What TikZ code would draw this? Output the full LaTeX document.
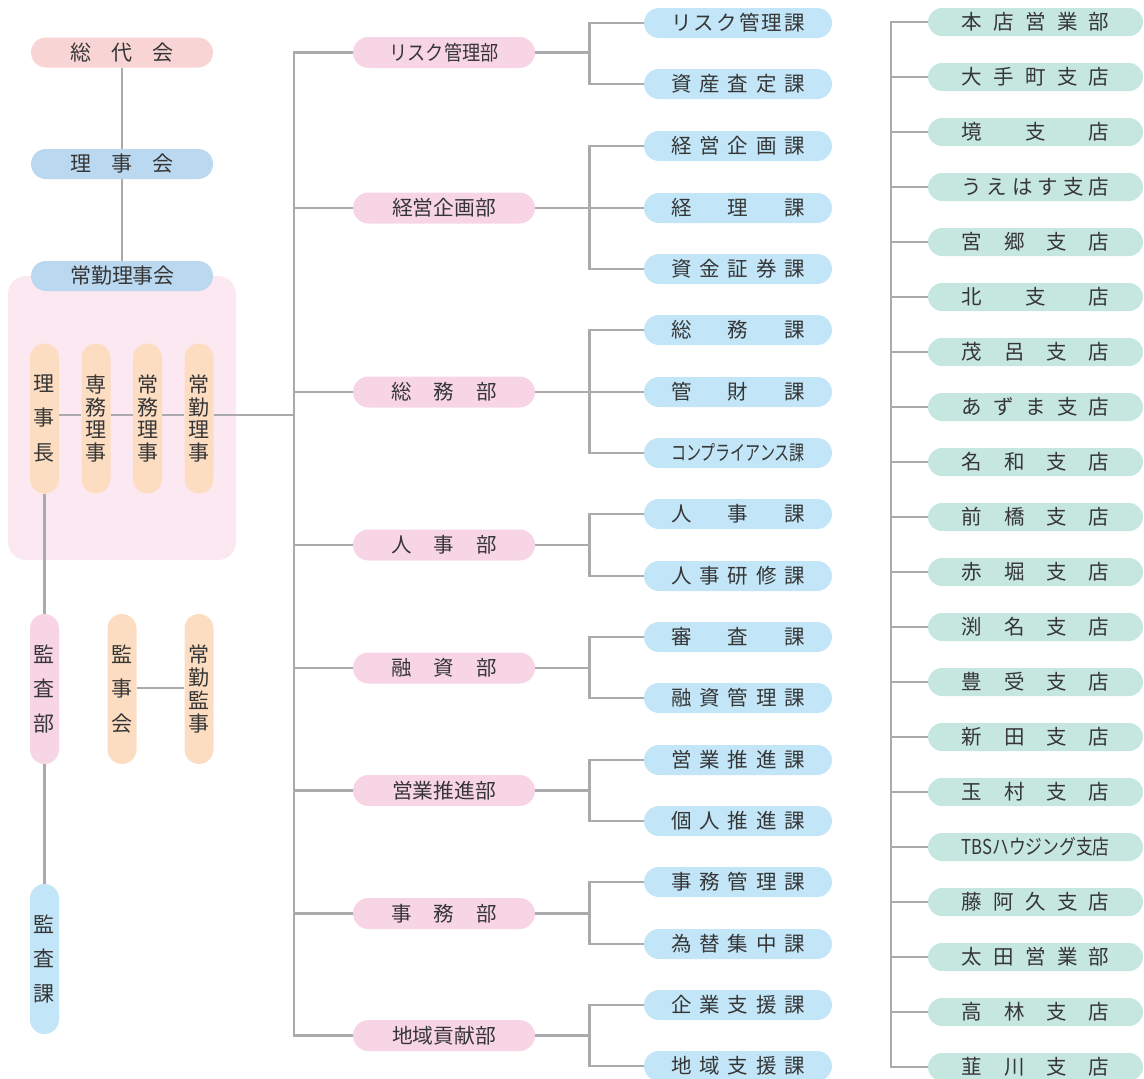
\documentclass[tikz,border=0pt]{standalone}
\usepackage{fontspec}
\usepackage{graphicx}
\newfontfamily\jp{Noto Sans CJK JP}
\newcommand\spreadtxt[2]{\makebox[#1][s]{#2}}
\newcommand\fitw[2]{\resizebox{#1}{\height}{#2}}
\newcommand\vc[1]{\hbox to 22pt{\hss#1\hss}}
\definecolor{linegray}{HTML}{ABABAD}
\definecolor{txt}{HTML}{363636}
\definecolor{cRed}{HTML}{F9D4D4}
\definecolor{cBlue}{HTML}{BAD8F0}
\definecolor{cBg}{HTML}{FCE8F1}
\definecolor{cOrange}{HTML}{FCDDC1}
\definecolor{cPink}{HTML}{F8D5E5}
\definecolor{cSky}{HTML}{C2E6F8}
\definecolor{cTeal}{HTML}{C6E6E0}
\tikzset{
  conn/.style={draw=linegray, line width=2.6pt},
  basepill/.style={rectangle, inner sep=0pt, text=txt, font=\jp\fontsize{20.5}{20.5}\selectfont},
  toppill/.style={basepill, fill=#1, minimum width=182pt, minimum height=30pt, rounded corners=15pt, font=\jp\fontsize{21}{21}\selectfont},
  vpill/.style={basepill, fill=#1, minimum width=29pt, minimum height=150pt, rounded corners=14.5pt, font=\jp\fontsize{21}{21}\selectfont},
  dept/.style={basepill, fill=cPink, minimum width=182pt, minimum height=31pt, rounded corners=15.5pt},
  ka/.style={basepill, fill=cSky, minimum width=188pt, minimum height=30pt, rounded corners=15pt},
  br/.style={basepill, fill=cTeal, minimum width=215pt, minimum height=28pt, rounded corners=14pt},
  bgbox/.style={rectangle, fill=cBg, minimum width=228pt, minimum height=284pt, rounded corners=18pt, inner sep=0pt}
}
\begin{document}
\begin{tikzpicture}[x=1pt,y=-1pt]
\useasboundingbox (0,0) rectangle (1144,1079);
% helper coordinates
\coordinate (tx) at (294,0);
\coordinate (bx) at (589.5,0);
\coordinate (vx) at (891,0);

% left column
\node[bgbox] (bg) at (122,418) {};
\node[toppill=cRed] (sodai) at (122,52.5) {\spreadtxt{104pt}{総\hfill 代\hfill 会}};
\node[toppill=cBlue] (rijikai) at (122,164) {\spreadtxt{104pt}{理\hfill 事\hfill 会}};
\node[toppill=cBlue] (joukin) at (122,276) {\spreadtxt{104pt}{常\hfill 勤\hfill 理\hfill 事\hfill 会}};
\draw[conn] (sodai.south) -- (rijikai.north);
\draw[conn] (rijikai.south) -- (joukin.north);

\node[vpill=cOrange] (rjc) at (44.5,418.5) {\vbox to 86pt{\vc{理}\vfill\vc{事}\vfill\vc{長}}};
\node[vpill=cOrange] (smr) at (96,418.5) {\vbox to 86pt{\vc{専}\vfill\vc{務}\vfill\vc{理}\vfill\vc{事}}};
\node[vpill=cOrange] (jmr) at (147.5,418.5) {\vbox to 86pt{\vc{常}\vfill\vc{務}\vfill\vc{理}\vfill\vc{事}}};
\node[vpill=cOrange] (jkr) at (199,418.5) {\vbox to 86pt{\vc{常}\vfill\vc{勤}\vfill\vc{理}\vfill\vc{事}}};
\draw[conn] (rjc.east |- 0,415) -- (smr.west |- 0,415);
\draw[conn] (smr.east |- 0,415) -- (jmr.west |- 0,415);
\draw[conn] (jmr.east |- 0,415) -- (jkr.west |- 0,415);

\node[vpill=cPink] (ksb) at (44.5,689) {\vbox to 86pt{\vc{監}\vfill\vc{査}\vfill\vc{部}}};
\node[vpill=cOrange] (kjk) at (122,689) {\vbox to 86pt{\vc{監}\vfill\vc{事}\vfill\vc{会}}};
\node[vpill=cOrange] (jkk) at (199,689) {\vbox to 86pt{\vc{常}\vfill\vc{勤}\vfill\vc{監}\vfill\vc{事}}};
\node[vpill=cSky] (ksk) at (44.5,959) {\vbox to 86pt{\vc{監}\vfill\vc{査}\vfill\vc{課}}};
\draw[conn] (rjc.south) -- (ksb.north);
\draw[conn] (ksb.south) -- (ksk.north);
\draw[conn] (kjk.east |- 0,688) -- (jkk.west |- 0,688);

% departments
\node[dept] (d1) at (444,52.5) {\fitw{109pt}{リスク管理部}};
\node[dept] (d2) at (444,208) {\fitw{104pt}{経営企画部}};
\node[dept] (d3) at (444,392) {\spreadtxt{106pt}{総\hfill 務\hfill 部}};
\node[dept] (d4) at (444,545) {\spreadtxt{106pt}{人\hfill 事\hfill 部}};
\node[dept] (d5) at (444,668) {\spreadtxt{106pt}{融\hfill 資\hfill 部}};
\node[dept] (d6) at (444,790.5) {\fitw{104pt}{営業推進部}};
\node[dept] (d7) at (444,913.5) {\spreadtxt{106pt}{事\hfill 務\hfill 部}};
\node[dept] (d8) at (444,1035.5) {\fitw{104pt}{地域貢献部}};

% trunk
\draw[conn] (d1.west) -| (d8.west -| tx) -- (d8.west);
\foreach \d in {d2,d3,d4,d5,d6,d7}{\draw[conn] (\d.west) -- (\d.west -| tx);}
\draw[conn] (jkr.east |- 0,415) -- (tx |- 0,415);

% sections
\node[ka] (k1) at (738,23) {\spreadtxt{134pt}{リ\hfill ス\hfill ク\hfill 管\hfill 理\hfill 課}};
\node[ka] (k2) at (738,84) {\spreadtxt{134pt}{資\hfill 産\hfill 査\hfill 定\hfill 課}};
\node[ka] (k3) at (738,146) {\spreadtxt{134pt}{経\hfill 営\hfill 企\hfill 画\hfill 課}};
\node[ka] (k4) at (738,208) {\spreadtxt{134pt}{経\hfill 理\hfill 課}};
\node[ka] (k5) at (738,269) {\spreadtxt{134pt}{資\hfill 金\hfill 証\hfill 券\hfill 課}};
\node[ka] (k6) at (738,330) {\spreadtxt{134pt}{総\hfill 務\hfill 課}};
\node[ka] (k7) at (738,392) {\spreadtxt{134pt}{管\hfill 財\hfill 課}};
\node[ka] (k8) at (738,453) {\fitw{134pt}{コンプライアンス課}};
\node[ka] (k9) at (738,514) {\spreadtxt{134pt}{人\hfill 事\hfill 課}};
\node[ka] (k10) at (738,576) {\spreadtxt{134pt}{人\hfill 事\hfill 研\hfill 修\hfill 課}};
\node[ka] (k11) at (738,637) {\spreadtxt{134pt}{審\hfill 査\hfill 課}};
\node[ka] (k12) at (738,698) {\spreadtxt{134pt}{融\hfill 資\hfill 管\hfill 理\hfill 課}};
\node[ka] (k13) at (738,760) {\spreadtxt{134pt}{営\hfill 業\hfill 推\hfill 進\hfill 課}};
\node[ka] (k14) at (738,821) {\spreadtxt{134pt}{個\hfill 人\hfill 推\hfill 進\hfill 課}};
\node[ka] (k15) at (738,882) {\spreadtxt{134pt}{事\hfill 務\hfill 管\hfill 理\hfill 課}};
\node[ka] (k16) at (738,944) {\spreadtxt{134pt}{為\hfill 替\hfill 集\hfill 中\hfill 課}};
\node[ka] (k17) at (738,1005) {\spreadtxt{134pt}{企\hfill 業\hfill 支\hfill 援\hfill 課}};
\node[ka] (k18) at (738,1066) {\spreadtxt{134pt}{地\hfill 域\hfill 支\hfill 援\hfill 課}};

% brackets
\foreach \d/\ks in {d1/{k1,k2}, d2/{k3,k4,k5}, d3/{k6,k7,k8}, d4/{k9,k10}, d5/{k11,k12}, d6/{k13,k14}, d7/{k15,k16}, d8/{k17,k18}}{
  \draw[conn] (\d.east) -- (\d.east -| bx);
  \foreach \k in \ks {\draw[conn] (\k.west) -| (\d.east -| bx);}
}

% branches
\foreach \i/\t in {
 1/{\spreadtxt{148pt}{本\hfill 店\hfill 営\hfill 業\hfill 部}},
 2/{\spreadtxt{148pt}{大\hfill 手\hfill 町\hfill 支\hfill 店}},
 3/{\spreadtxt{148pt}{境\hfill 支\hfill 店}},
 4/{\spreadtxt{148pt}{う\hfill え\hfill は\hfill す\hfill 支\hfill 店}},
 5/{\spreadtxt{148pt}{宮\hfill 郷\hfill 支\hfill 店}},
 6/{\spreadtxt{148pt}{北\hfill 支\hfill 店}},
 7/{\spreadtxt{148pt}{茂\hfill 呂\hfill 支\hfill 店}},
 8/{\spreadtxt{148pt}{あ\hfill ず\hfill ま\hfill 支\hfill 店}},
 9/{\spreadtxt{148pt}{名\hfill 和\hfill 支\hfill 店}},
 10/{\spreadtxt{148pt}{前\hfill 橋\hfill 支\hfill 店}},
 11/{\spreadtxt{148pt}{赤\hfill 堀\hfill 支\hfill 店}},
 12/{\spreadtxt{148pt}{渕\hfill 名\hfill 支\hfill 店}},
 13/{\spreadtxt{148pt}{豊\hfill 受\hfill 支\hfill 店}},
 14/{\spreadtxt{148pt}{新\hfill 田\hfill 支\hfill 店}},
 15/{\spreadtxt{148pt}{玉\hfill 村\hfill 支\hfill 店}},
 16/{\fitw{148pt}{TBSハウジング支店}},
 17/{\spreadtxt{148pt}{藤\hfill 阿\hfill 久\hfill 支\hfill 店}},
 18/{\spreadtxt{148pt}{太\hfill 田\hfill 営\hfill 業\hfill 部}},
 19/{\spreadtxt{148pt}{高\hfill 林\hfill 支\hfill 店}},
 20/{\spreadtxt{148pt}{韮\hfill 川\hfill 支\hfill 店}}}{
  \node[br] (b\i) at (1035.5,{22+(\i-1)*55}) {\t};
}
\draw[conn] (b1.west) -| (b20.west -| vx) -- (b20.west);
\foreach \i in {2,...,19}{\draw[conn] (b\i.west) -- (b\i.west -| vx);}
\end{tikzpicture}
\end{document}
